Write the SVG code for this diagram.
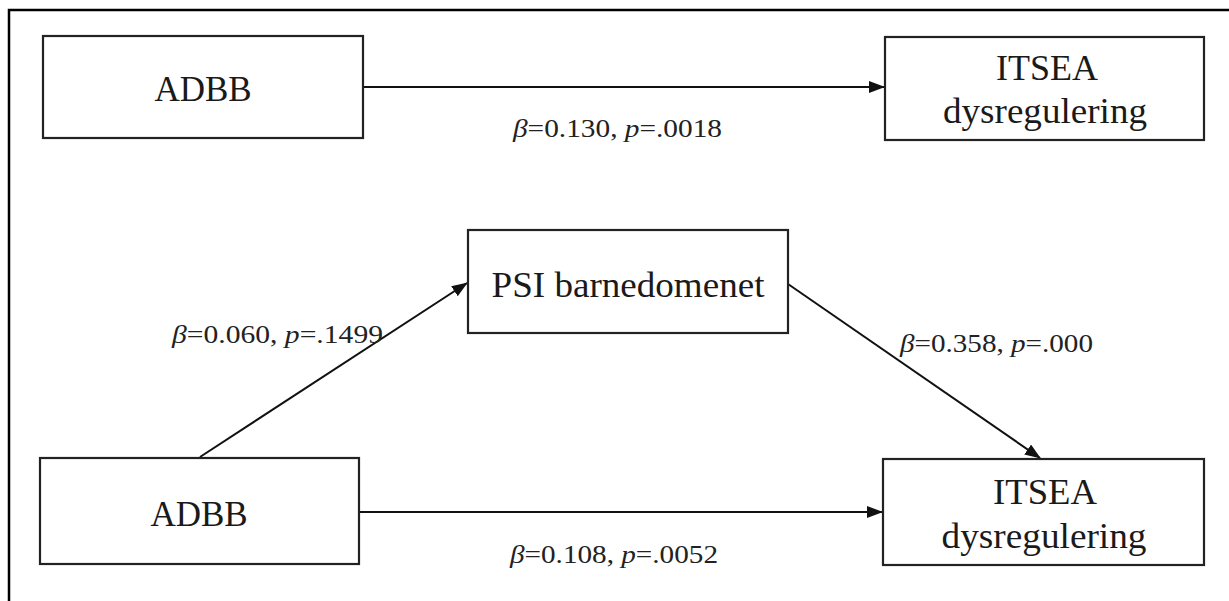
<svg xmlns="http://www.w3.org/2000/svg" width="1229" height="601" viewBox="0 0 1229 601">
<style>
.box{fill:#fff;stroke:#222;stroke-width:2.2}
.t{font-family:"Liberation Serif","Times New Roman",serif;font-size:35px;fill:#1a1a1a;text-anchor:middle}
.lbl{font-family:"Liberation Serif","Times New Roman",serif;font-size:26px;fill:#222}
.it{font-style:italic}
.conn{stroke:#111;stroke-width:2;fill:none;marker-end:url(#ah)}
</style>
<defs>
<marker id="ah" markerUnits="userSpaceOnUse" markerWidth="16" markerHeight="12" refX="15" refY="6" orient="auto">
<path d="M0,0 L16,6 L0,12 Z" fill="#111"/>
</marker>
</defs>
<rect width="1229" height="601" fill="#fff"/>
<path d="M9,601 V10 H1229" fill="none" stroke="#000" stroke-width="2.5"/>
<g id="connectors">
<line class="conn" x1="363" y1="87" x2="884" y2="87"/>
<line class="conn" x1="200" y1="457" x2="467" y2="283"/>
<line class="conn" x1="788" y1="284" x2="1040" y2="458"/>
<line class="conn" x1="359" y1="512" x2="882" y2="512"/>
<text class="lbl" x="513" y="137" textLength="209" lengthAdjust="spacingAndGlyphs"><tspan class="it">β</tspan>=0.130, <tspan class="it">p</tspan>=.0018</text>
<text class="lbl" x="172" y="343" textLength="211" lengthAdjust="spacingAndGlyphs"><tspan class="it">β</tspan>=0.060, <tspan class="it">p</tspan>=.1499</text>
<text class="lbl" x="900" y="352" textLength="193" lengthAdjust="spacingAndGlyphs"><tspan class="it">β</tspan>=0.358, <tspan class="it">p</tspan>=.000</text>
<text class="lbl" x="510" y="563" textLength="208" lengthAdjust="spacingAndGlyphs"><tspan class="it">β</tspan>=0.108, <tspan class="it">p</tspan>=.0052</text>
</g>
<g id="adbb-top">
<rect class="box" x="43" y="36" width="320" height="102"/>
<text class="t" x="203" y="101">ADBB</text>
</g>
<g id="itsea-top">
<rect class="box" x="885" y="37" width="319" height="103"/>
<text class="t" x="1047" y="80" textLength="102" lengthAdjust="spacingAndGlyphs">ITSEA</text>
<text class="t" x="1045" y="123" textLength="204" lengthAdjust="spacingAndGlyphs">dysregulering</text>
</g>
<g id="psi">
<rect class="box" x="468" y="230" width="320" height="103"/>
<text class="t" x="628" y="297" textLength="273" lengthAdjust="spacingAndGlyphs">PSI barnedomenet</text>
</g>
<g id="adbb-bottom">
<rect class="box" x="40" y="458" width="319" height="106"/>
<text class="t" x="199" y="526">ADBB</text>
</g>
<g id="itsea-bottom">
<rect class="box" x="883" y="459" width="321" height="106"/>
<text class="t" x="1045" y="504" textLength="104" lengthAdjust="spacingAndGlyphs">ITSEA</text>
<text class="t" x="1044" y="548" textLength="205" lengthAdjust="spacingAndGlyphs">dysregulering</text>
</g>
</svg>
